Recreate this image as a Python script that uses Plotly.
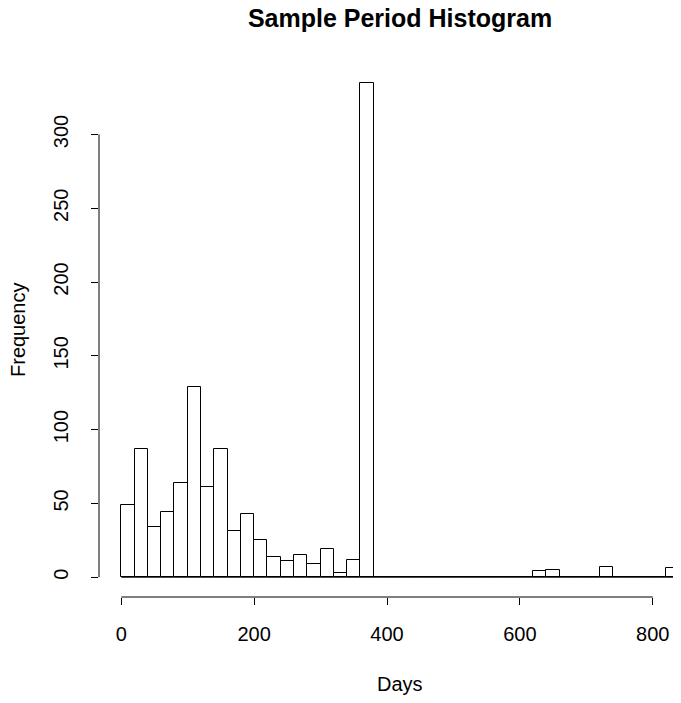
import plotly.graph_objects as go

# Histogram data (bins of 20 days from 0 to 840)
bin_width = 20
bin_starts = list(range(0, 840, 20))
counts = [49, 87, 34, 44, 64, 129, 61, 87, 31, 43,
          25, 14, 11, 15, 9, 19, 3, 12, 335, 0,
          0, 0, 0, 0, 0, 0, 0, 0, 0, 0,
          0, 4, 5, 0, 0, 0, 7, 0, 0, 0,
          0, 6]
x_ticks = [0, 200, 400, 600, 800]
y_ticks = [0, 50, 100, 150, 200, 250, 300]

# the page body has an 8px margin; size the figure so it fills the window
OFF = 8
W, H = 681 - OFF, 703 - OFF
L, R, T = 99 - OFF, 0, 63 - OFF
B = H - (597.5 - OFF)
FONT = "Liberation Sans, Arial, sans-serif"

centers = [s + bin_width / 2 for s in bin_starts]

fig = go.Figure()
fig.add_trace(go.Bar(
    x=centers, y=counts, width=[bin_width] * len(counts),
    marker=dict(color="white", line=dict(color="black", width=1)),
    hoverinfo="x+y", showlegend=False, cliponaxis=False,
))

pw = W - L - R
ph = H - T - B


def px_to_paper_x(px):
    return (px - OFF - L) / pw


def px_to_paper_y(py):
    return (H - B - (py - OFF)) / ph


fig.update_layout(
    width=W, height=H,
    margin=dict(l=L, r=R, t=T, b=B, pad=0, autoexpand=False),
    paper_bgcolor="white", plot_bgcolor="white",
    font=dict(family=FONT, color="black", size=20),
    bargap=0,
    title=dict(text="Sample Period Histogram", xref="container", yref="container",
               x=(400 - OFF) / W, y=1 - (18 - OFF) / H, xanchor="center",
               yanchor="middle", automargin=False,
               font=dict(family=FONT, size=25, weight="bold", color="black")),
    xaxis=dict(range=[-33.6, 842.5], tickvals=x_ticks, ticks="outside", ticklen=7,
               tickcolor="black", tickwidth=1, showline=False, showgrid=False,
               zeroline=False, tickfont=dict(size=20, family=FONT), fixedrange=True,
               automargin=False, ticklabelstandoff=12),
    yaxis=dict(range=[-13.4, 348.4], tickvals=y_ticks, ticks="outside", ticklen=7,
               tickcolor="black", tickwidth=1, showline=False, showgrid=False,
               zeroline=False, tickangle=-90, tickfont=dict(size=20, family=FONT),
               fixedrange=True, automargin=False, ticklabelstandoff=15),
    shapes=[
        dict(type="line", xref="x", yref="paper", x0=x_ticks[0], x1=x_ticks[-1],
             y0=0, y1=0, line=dict(color="black", width=1)),
        dict(type="line", xref="paper", yref="y", x0=0, x1=0,
             y0=y_ticks[0], y1=y_ticks[-1], line=dict(color="black", width=1)),
        dict(type="line", xref="x", yref="y", x0=bin_starts[0],
             x1=bin_starts[-1] + bin_width, y0=0, y1=0,
             line=dict(color="black", width=1), layer="below"),
    ],
    annotations=[
        dict(text="Days", xref="paper", yref="paper", x=px_to_paper_x(400),
             y=px_to_paper_y(685), xanchor="center", yanchor="middle",
             showarrow=False, font=dict(size=20, family=FONT)),
        dict(text="Frequency", xref="paper", yref="paper", x=px_to_paper_x(18),
             y=0.5, xanchor="center", yanchor="middle", textangle=-90,
             showarrow=False, font=dict(size=20, family=FONT)),
    ],
)

fig.write_html("out.html")
